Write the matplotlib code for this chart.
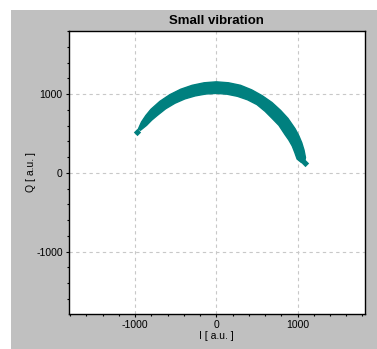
import matplotlib
matplotlib.use("Agg")
import matplotlib.pyplot as plt
from matplotlib.patches import Rectangle, Polygon
from matplotlib.ticker import MultipleLocator
import numpy as np

plt.rcParams['font.family'] = ['Liberation Sans', 'DejaVu Sans']
plt.rcParams['axes.unicode_minus'] = False

# Band of the I/Q scatter cloud (outer and inner edges)
outer_I = [1087, 1098, 1080, 1052, 1015, 970, 883, 792, 685, 565, 436, 298, 150,
           0, -150, -298, -439, -573, -696, -806, -868, -922, -961]
outer_Q = [133, 194, 289, 383, 473, 560, 690, 792, 893, 979, 1053, 1111, 1143,
           1155, 1143, 1111, 1061, 992, 907, 806, 728, 645, 555]
inner_I = [1052, 995, 966, 935, 893, 844, 771, 689, 600, 500, 384, 260, 131,
           0, -132, -261, -388, -510, -624, -728, -797, -860, -935]
inner_Q = [129, 175, 259, 340, 416, 488, 602, 689, 781, 866, 927, 971, 998,
           1008, 1000, 976, 938, 883, 813, 728, 668, 602, 540]
# Isolated points at the ends of the arc
end_I = [-972, 1086, 1045]
end_Q = [521, 119, 170]

title = "Small vibration"
xlabel = "I [ a.u. ]"
ylabel = "Q [ a.u. ]"
major_ticks = [-1000, 0, 1000]

teal = "#00807f"

fig = plt.figure(figsize=(3.77, 3.49), dpi=100, facecolor="white")
bg = Rectangle((11/377, 0), 1 - 11/377, 1 - 10/349,
               transform=fig.transFigure, facecolor="#c0c0c0",
               edgecolor="none", zorder=-10)
fig.add_artist(bg)

ax = fig.add_axes([69/377, 1 - 313.5/349, (364.5-69)/377, (313.5-31)/349])
ax.set_zorder(5)
ax.set_facecolor("white")
ax.set_xlim(-1815, 1825)
ax.set_ylim(-1785, 1800)

band_I = outer_I + inner_I[::-1]
band_Q = outer_Q + inner_Q[::-1]
ax.add_patch(Polygon(np.column_stack([band_I, band_Q]), closed=True,
                     facecolor=teal, edgecolor=teal, linewidth=1.0,
                     joinstyle="round", zorder=3))
ax.scatter(end_I, end_Q, marker="D", s=14, color=teal, linewidths=0, zorder=3)

ax.set_xticks(major_ticks)
ax.set_yticks(major_ticks)
ax.xaxis.set_minor_locator(MultipleLocator(200))
ax.yaxis.set_minor_locator(MultipleLocator(200))
ax.tick_params(which="major", direction="out", length=2.5, width=0.8,
               labelsize=7.5, pad=2, colors="black")
ax.tick_params(which="minor", direction="out", length=1.6, width=0.8)
ax.grid(True, which="major", color="#c8c8c8", linestyle=(0, (3, 3)), linewidth=0.8)
ax.set_axisbelow(True)
for s in ax.spines.values():
    s.set_linewidth(1.0)
    s.set_color("black")

ax.set_title(title, fontsize=9.5, fontweight="bold", pad=5)
ax.set_xlabel(xlabel, fontsize=7.5, labelpad=1)
ax.set_ylabel(ylabel, fontsize=7.5, labelpad=0)

fig.savefig("out.png", dpi=100, facecolor="white")
